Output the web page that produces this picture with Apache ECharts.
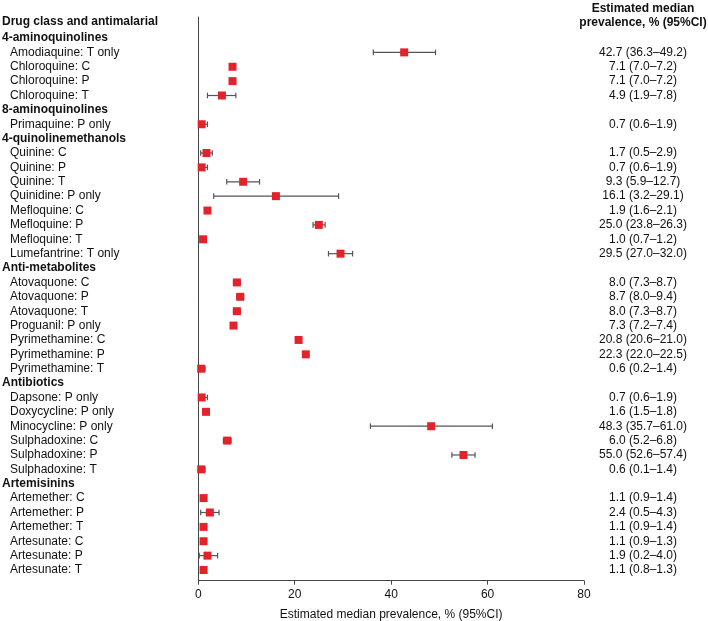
<!DOCTYPE html>
<html>
<head>
<meta charset="utf-8">
<script src="https://cdn.jsdelivr.net/npm/echarts@6/dist/echarts.min.js"></script>
<style>
  html, body { margin: 0; padding: 0; background: #fff; }
  #main { width: 708px; height: 621px; }
</style>
</head>
<body>
<div id="main"></div>
<script>
// row labels, headers have no values
const rowLabels = [
  '4-aminoquinolines', 'Amodiaquine: T only', 'Chloroquine: C', 'Chloroquine: P', 'Chloroquine: T',
  '8-aminoquinolines', 'Primaquine: P only',
  '4-quinolinemethanols', 'Quinine: C', 'Quinine: P', 'Quinine: T', 'Quinidine: P only',
  'Mefloquine: C', 'Mefloquine: P', 'Mefloquine: T', 'Lumefantrine: T only',
  'Anti-metabolites', 'Atovaquone: C', 'Atovaquone: P', 'Atovaquone: T', 'Proguanil: P only',
  'Pyrimethamine: C', 'Pyrimethamine: P', 'Pyrimethamine: T',
  'Antibiotics', 'Dapsone: P only', 'Doxycycline: P only', 'Minocycline: P only',
  'Sulphadoxine: C', 'Sulphadoxine: P', 'Sulphadoxine: T',
  'Artemisinins', 'Artemether: C', 'Artemether: P', 'Artemether: T',
  'Artesunate: C', 'Artesunate: P', 'Artesunate: T'
]
const medians = [
  null, 42.7, 7.1, 7.1, 4.9,
  null, 0.7,
  null, 1.7, 0.7, 9.3, 16.1,
  1.9, 25.0, 1.0, 29.5,
  null, 8.0, 8.7, 8.0, 7.3,
  20.8, 22.3, 0.6,
  null, 0.7, 1.6, 48.3,
  6.0, 55.0, 0.6,
  null, 1.1, 2.4, 1.1,
  1.1, 1.9, 1.1
]
const lower = [
  null, 36.3, 7.0, 7.0, 1.9,
  null, 0.6,
  null, 0.5, 0.6, 5.9, 3.2,
  1.6, 23.8, 0.7, 27.0,
  null, 7.3, 8.0, 7.3, 7.2,
  20.6, 22.0, 0.2,
  null, 0.6, 1.5, 35.7,
  5.2, 52.6, 0.1,
  null, 0.9, 0.5, 0.9,
  0.9, 0.2, 0.8
]
const upper = [
  null, 49.2, 7.2, 7.2, 7.8,
  null, 1.9,
  null, 2.9, 1.9, 12.7, 29.1,
  2.1, 26.3, 1.2, 32.0,
  null, 8.7, 9.4, 8.7, 7.4,
  21.0, 22.5, 1.4,
  null, 1.9, 1.8, 61.0,
  6.8, 57.4, 1.4,
  null, 1.4, 4.3, 1.4,
  1.3, 4.0, 1.3
]
const xTicks = [0, 20, 40, 60, 80]

const font = '"Liberation Sans", Arial, sans-serif'
const plotLeft = 198.3
const plotRight = 124

let rightLabels = medians.map((m, i) => {
  if (m == null) return ''
  return m.toFixed(1) + ' (' + lower[i].toFixed(1) + '\u2013' + upper[i].toFixed(1) + ')'
})

let pointData = []
let barData = []
medians.forEach((m, i) => {
  if (m == null) return
  pointData.push([m, i])
  barData.push([lower[i], upper[i], i])
})

let chart = echarts.init(document.getElementById('main'), null, { renderer: 'canvas' })

let option = {
  animation: false,
  textStyle: { fontFamily: font },
  graphic: [
    {
      type: 'text', left: 2, top: 16,
      style: { text: 'Drug class and antimalarial', font: 'bold 12px ' + font, fill: '#111' }
    },
    {
      type: 'text', x: 643, y: 2,
      style: {
        text: 'Estimated median\nprevalence, % (95%CI)',
        font: 'bold 12px ' + font, fill: '#111',
        align: 'center', verticalAlign: 'top', lineHeight: 14
      }
    }
  ],
  grid: [
    // rows
    { left: plotLeft, right: plotRight, top: 30.8, bottom: 43.8, outerBoundsMode: 'none' },
    // axis frame
    { left: plotLeft, right: plotRight, top: 17, bottom: 40.3, outerBoundsMode: 'none' }
  ],
  xAxis: [
    { gridIndex: 0, type: 'value', min: 0, max: 80, show: false },
    {
      gridIndex: 1, type: 'value', min: xTicks[0], max: xTicks[xTicks.length - 1], interval: 20,
      axisLine: { lineStyle: { color: '#444', width: 1 } },
      axisTick: { show: true, length: 4, lineStyle: { color: '#444' } },
      axisLabel: { color: '#111', fontSize: 12, margin: 8 },
      splitLine: { show: false },
      name: 'Estimated median prevalence, % (95%CI)',
      nameLocation: 'middle', nameGap: 28,
      nameTextStyle: { color: '#111', fontSize: 12 }
    }
  ],
  yAxis: [
    {
      gridIndex: 0, type: 'category', data: rowLabels, inverse: true,
      axisLine: { show: false }, axisTick: { show: false },
      axisLabel: {
        interval: 0, align: 'left', margin: plotLeft - 2,
        formatter: (v, i) => medians[i] == null ? '{h|' + v + '}' : '{r|' + v + '}',
        rich: {
          h: { fontWeight: 'bold', fontSize: 12, color: '#111', fontFamily: font },
          r: { fontSize: 12, color: '#111', fontFamily: font, padding: [0, 0, 0, 8] }
        }
      }
    },
    {
      gridIndex: 0, type: 'category', data: rightLabels, inverse: true, position: 'right',
      axisLine: { show: false }, axisTick: { show: false },
      axisLabel: { interval: 0, align: 'center', margin: 643 - (708 - plotRight), color: '#111', fontSize: 12 }
    },
    {
      gridIndex: 1, type: 'value', min: 0, max: 1,
      axisLine: { show: true, lineStyle: { color: '#444', width: 1 } },
      axisTick: { show: false }, axisLabel: { show: false }, splitLine: { show: false }
    }
  ],
  series: [
    {
      type: 'custom',
      xAxisIndex: 0, yAxisIndex: 0,
      data: barData,
      encode: { x: [0, 1], y: 2 },
      z: 2,
      renderItem: (params, api) => {
        let row = api.value(2)
        let a = api.coord([api.value(0), row])
        let b = api.coord([api.value(1), row])
        let cap = 2.8
        let st = { stroke: '#555', lineWidth: 1.2 }
        return {
          type: 'group',
          children: [
            { type: 'line', shape: { x1: a[0], y1: a[1], x2: b[0], y2: b[1] }, style: st },
            { type: 'line', shape: { x1: a[0], y1: a[1] - cap, x2: a[0], y2: a[1] + cap }, style: st },
            { type: 'line', shape: { x1: b[0], y1: b[1] - cap, x2: b[0], y2: b[1] + cap }, style: st }
          ]
        }
      }
    },
    {
      type: 'scatter',
      xAxisIndex: 0, yAxisIndex: 0,
      data: pointData,
      symbol: 'rect',
      symbolSize: 8,
      z: 3,
      itemStyle: { color: '#e3232b', opacity: 1 }
    }
  ]
}

chart.setOption(option)
</script>
</body>
</html>
